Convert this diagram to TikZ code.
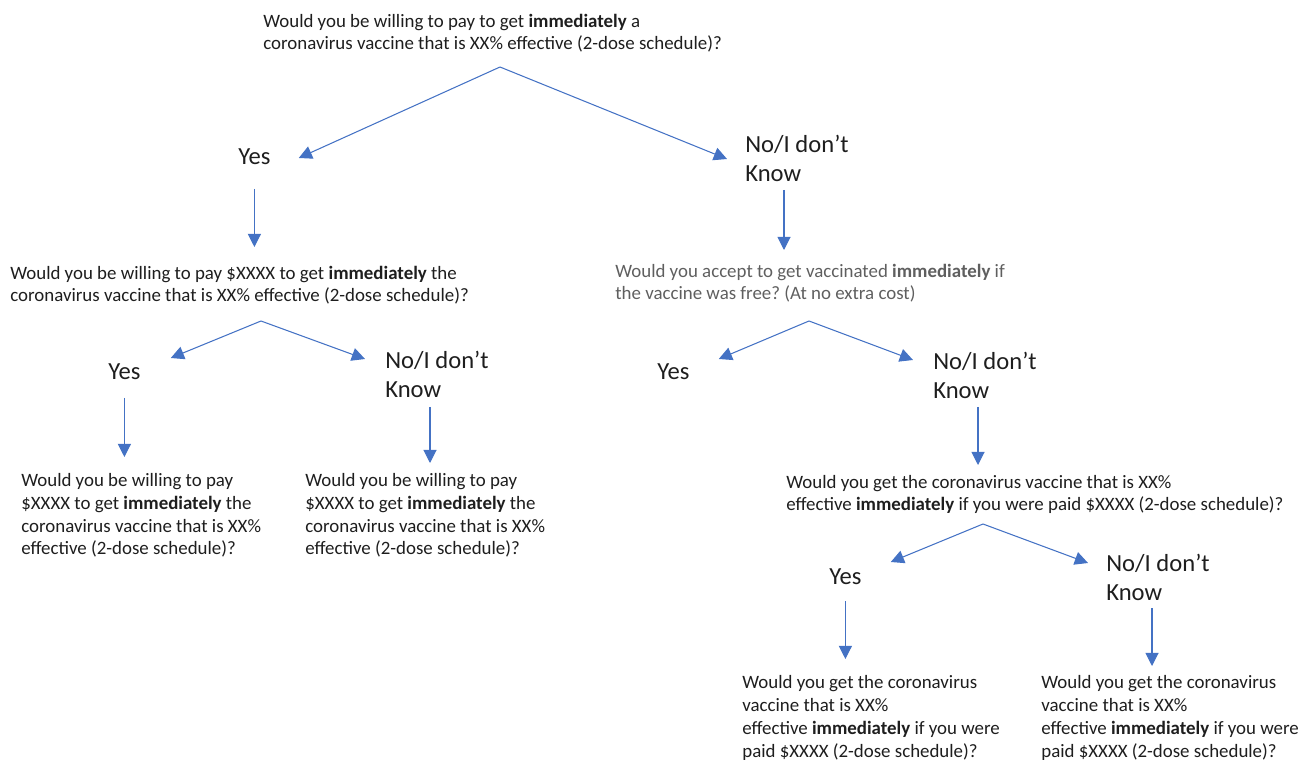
\documentclass[tikz,border=0pt]{standalone}
\usepackage{fontspec}
\setmainfont{Carlito}
\usepackage{xcolor}
\usetikzlibrary{arrows.meta, calc}
\definecolor{branchBlue}{RGB}{68, 114, 196}
\definecolor{textDark}{RGB}{30, 30, 30}
\definecolor{textGrey}{RGB}{95, 95, 95}

\begin{document}
\frenchspacing
\begin{tikzpicture}[x=0.02cm, y=-0.02cm,
		question/.style={anchor=base west, inner sep=0pt, align=left, text=textDark,
			font=\fontsize{10.75}{13}\selectfont},
		answer/.style={anchor=base west, inner sep=0pt, align=left, text=textDark,
			font=\fontsize{14}{17}\selectfont},
		branch/.style={branchBlue, line width=0.6pt, -{Triangle[length=7.5pt, width=7.5pt]}}]
	\useasboundingbox (0,0) rectangle (1303,760);
	% level 0 (base = last line)
	\node[question] (q1) at (263,50)
	{Would you be willing to pay to get \textbf{immediately} a\\coronavirus vaccine that is XX\% effective (2-dose schedule)?};
	\node[answer] (yes1) at (238,165) {Yes};
	\node[answer] (no1) at (745,182) {No/I don’t\\Know};
	\coordinate (q1fork) at (500,67);
	\draw[branch] (q1fork) -- ($(yes1.base east)+(28,-7)$);
	\draw[branch] (q1fork) -- ($(no1.base west)+(-18,-23)$);
	% level 1: paid
	\node[question] (q2) at (10,302)
	{Would you be willing to pay \$XXXX to get \textbf{immediately} the\\coronavirus vaccine that is XX\% effective (2-dose schedule)?};
	\draw[branch] ($(yes1.base)+(0,24)$) -- ($(yes1.base |- q2.base)+(0,-55)$);
	\node[answer] (yes2) at (108,380) {Yes};
	\node[answer] (no2) at (385,398) {No/I don’t\\Know};
	\coordinate (q2fork) at (261,321);
	\draw[branch] (q2fork) -- ($(yes2.base east)+(30,-22)$);
	\draw[branch] (q2fork) -- ($(no2.base west)+(-20,-39)$);
	\node[question] (q4) at (21,555)
	{Would you be willing to pay\\\$XXXX to get \textbf{immediately} the\\coronavirus vaccine that is XX\%\\effective (2-dose schedule)?};
	\node[question] (q5) at (305,555)
	{Would you be willing to pay\\\$XXXX to get \textbf{immediately} the\\coronavirus vaccine that is XX\%\\effective (2-dose schedule)?};
	\draw[branch] ($(yes2.base)+(0,18)$) -- ($(yes2.base |- q4.base)+(0,-98)$);
	\draw[branch] ($(no2.base west)+(45,9)$) -- ($(no2.base west |- q5.base)+(45,-92)$);
	% level 1: free
	\node[question, text=textGrey] (q3) at (615,300)
	{Would you accept to get vaccinated \textbf{immediately} if\\the vaccine was free? (At no extra cost)};
	\draw[branch] ($(no1.base west)+(39,8)$) -- ($(no1.base west |- q3.base)+(39,-50)$);
	\node[answer] (yes3) at (657,380) {Yes};
	\node[answer] (no3) at (933,399) {No/I don’t\\Know};
	\coordinate (q3fork) at (809,321);
	\draw[branch] (q3fork) -- ($(yes3.base east)+(29,-21)$);
	\draw[branch] (q3fork) -- ($(no3.base west)+(-20,-39)$);
	% level 2: paid to get it
	\node[question] (q6) at (786,511)
	{Would you get the coronavirus vaccine that is XX\%\\effective \textbf{immediately} if you were paid \$XXXX (2-dose schedule)?};
	\draw[branch] ($(no3.base west)+(45,8)$) -- ($(no3.base west |- q6.base)+(45,-46)$);
	\node[answer] (yes4) at (829,584) {Yes};
	\node[answer] (no4) at (1106,601) {No/I don’t\\Know};
	\coordinate (q6fork) at (983,524);
	\draw[branch] (q6fork) -- ($(yes4.base east)+(29,-22)$);
	\draw[branch] (q6fork) -- ($(no4.base west)+(-18,-38)$);
	\node[question] (q7) at (742,757)
	{Would you get the coronavirus\\vaccine that is XX\%\\effective \textbf{immediately} if you were\\paid \$XXXX (2-dose schedule)?};
	\node[question] (q8) at (1041,757)
	{Would you get the coronavirus\\vaccine that is XX\%\\effective \textbf{immediately} if you were\\paid \$XXXX (2-dose schedule)?};
	\draw[branch] ($(yes4.base)+(0,17)$) -- ($(yes4.base |- q7.base)+(0,-98)$);
	\draw[branch] ($(no4.base west)+(46,7)$) -- ($(no4.base west |- q8.base)+(46,-91)$);
\end{tikzpicture}
\end{document}
